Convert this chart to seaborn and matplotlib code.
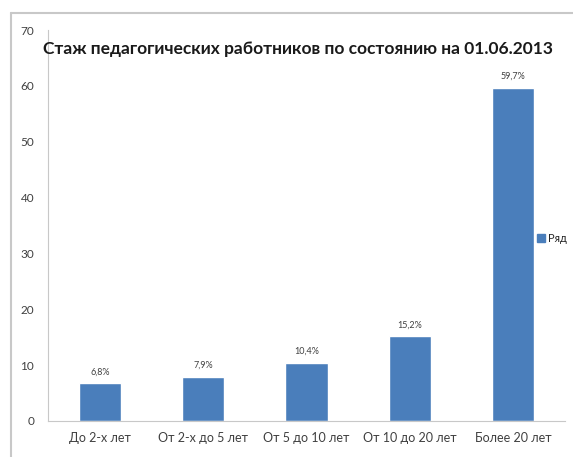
import seaborn as sns
import matplotlib.pyplot as plt
import matplotlib.patches as mpatches
import pandas as pd

# Data
categories = ["До 2-х лет", "От 2-х до 5 лет", "От 5 до 10 лет", "От 10 до 20 лет", "Более 20 лет"]
values = [6.8, 7.9, 10.4, 15.2, 59.7]
labels = ["6,8%", "7,9%", "10,4%", "15,2%", "59,7%"]
series_name = "Ряд"

df = pd.DataFrame({"cat": categories, "val": values})

sns.set_style("white")
plt.rcParams["font.family"] = ["Lato", "DejaVu Sans"]

fig = plt.figure(figsize=(5.73, 4.57), dpi=100)
ax = fig.add_axes([0.084, 0.079, 0.902, 0.855])

sns.barplot(data=df, x="cat", y="val", color="#4A7EBB", width=0.41, saturation=1, ax=ax)

ax.set_ylim(0, 70)
ax.set_yticks(range(0, 71, 10))
ax.set_xlabel("")
ax.set_ylabel("")

for i, (v, lab) in enumerate(zip(values, labels)):
    ax.text(i, v + 1.2, lab, ha="center", va="bottom", fontsize=6.5, color="#404040")

for s in ["top", "right"]:
    ax.spines[s].set_visible(False)
ax.spines["left"].set_color("#C8C8C8")
ax.spines["bottom"].set_color("#C8C8C8")
ax.tick_params(axis="y", length=4, color="#C8C8C8", labelsize=8.5, labelcolor="#404040", pad=6)
ax.tick_params(axis="x", length=0, labelsize=9, labelcolor="#404040", pad=8)

fig.text(0.52, 0.893, "Стаж педагогических работников по состоянию на 01.06.2013",
         ha="center", va="center", fontsize=12.5, fontweight="bold", color="#1a1a1a")

handle = mpatches.Patch(color="#4A7EBB", label=series_name)
fig.legend(handles=[handle], loc="center left", bbox_to_anchor=(0.937, 0.479),
           frameon=False, fontsize=8, handlelength=0.7, handleheight=0.7,
           handletextpad=0.3, borderaxespad=0, borderpad=0)

# outer chart frame (cropped)
fig.add_artist(plt.Line2D([0.019, 1.0], [0.972, 0.972], color="#C8C8C8", lw=1.5))
fig.add_artist(plt.Line2D([0.019, 0.019], [0.0, 0.972], color="#C8C8C8", lw=1.5))

fig.savefig("out.png", dpi=100)
